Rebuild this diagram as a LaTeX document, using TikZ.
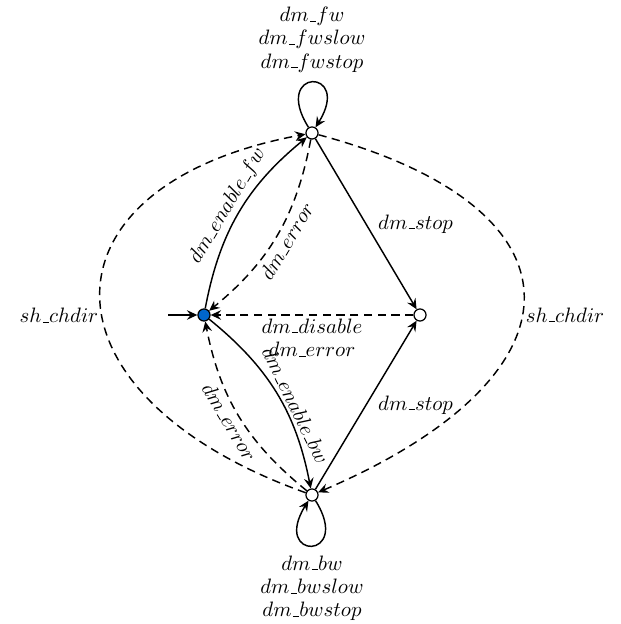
\documentclass[tikz,border=0pt]{standalone}
\usetikzlibrary{arrows.meta,calc}
\definecolor{stateblue}{RGB}{0,102,204}
\newcommand{\us}{\mbox{\kern.06em\vbox{\hrule width.3em}}}
\begin{document}
\begin{tikzpicture}[x=0.48pt,y=0.48pt,
  >={Stealth[length=5pt,width=4.6pt,inset=1.8pt]},
  state/.style={circle,draw,line width=0.6pt,minimum size=5.8pt,inner sep=0pt,fill=white},
  tr/.style={->,line width=0.7pt},
  dtr/.style={->,line width=0.7pt,dash pattern=on 4pt off 2.6pt},
  lbl/.style={inner sep=1.5pt,font=\fontsize{10.3pt}{11.2pt}\selectfont},
  looplbl/.style={lbl,align=center,inner sep=4.5pt},
  lpa/.style={out=122,in=58,min distance=34pt},
  lpb/.style={out=-58,in=-122,min distance=34pt}]
\useasboundingbox (0,0) rectangle (620,624);
\node[state,fill=stateblue] (L) at (204,309) {};
\node[state] (T) at (312,491) {};
\node[state] (R) at (420,309) {};
\node[state] (B) at (312,129) {};
\coordinate (S) at (168,309);
\draw[tr] (S) -- (L);
\draw[tr] (L) to[bend left=20] node[lbl,sloped,above]{$dm\us enable\us fw$} (T);
\draw[dtr] (T) to[bend left=20] node[lbl,sloped,below]{$dm\us error$} (L);
\draw[tr] (L) to[bend left=20] node[lbl,sloped,above,pos=0.6]{$dm\us enable\us bw$} (B);
\draw[dtr] (B) to[bend left=20] node[lbl,sloped,below]{$dm\us error$} (L);
\draw[dtr] (R) -- node[lbl,below,align=center]{$dm\us disable$\\$dm\us error$} (L);
\draw[tr] (T) -- node[lbl,right,pos=0.5,xshift=4pt]{$dm\us stop$} (R);
\draw[tr] (B) -- node[lbl,right,pos=0.5,xshift=4pt]{$dm\us stop$} (R);
\draw[tr] (T) to[lpa] node[looplbl,above]{$dm\us fw$\\$dm\us fwslow$\\$dm\us fwstop$} (T);
\draw[tr] (B) to[lpb] node[looplbl,below]{$dm\us bw$\\$dm\us bwslow$\\$dm\us bwstop$} (B);
\draw[dtr] (B) .. controls ($(B)+(-280,100)$) and ($(T)+(-280,-52)$) .. node[lbl,left,pos=0.455]{$sh\us chdir$} (T);
\draw[dtr] (T) .. controls ($(T)+(280,-75)$) and ($(B)+(280,120)$) .. node[lbl,right,pos=0.545]{$sh\us chdir$} (B);
\end{tikzpicture}
\end{document}
